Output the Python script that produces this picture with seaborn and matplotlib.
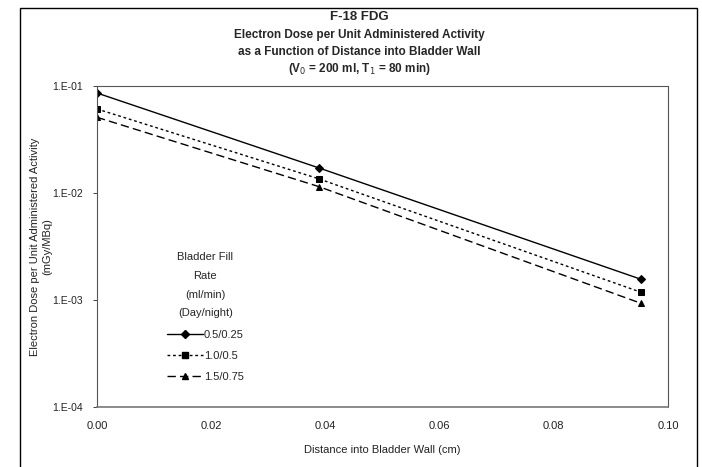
import numpy as np
import pandas as pd
import seaborn as sns
import matplotlib
matplotlib.use("Agg")
import matplotlib.pyplot as plt
from matplotlib.patches import Rectangle
from matplotlib.lines import Line2D

distance = [0.0, 0.0388, 0.0953]
dose_05 = [0.086, 0.0172, 0.00156]
dose_10 = [0.061, 0.0136, 0.00118]
dose_15 = [0.051, 0.0115, 0.00093]
series_labels = ["0.5/0.25", "1.0/0.5", "1.5/0.75"]
y_ticks = [1e-4, 1e-3, 1e-2, 1e-1]
y_tick_labels = ["1.E-04", "1.E-03", "1.E-02", "1.E-01"]
x_ticks = [0.00, 0.02, 0.04, 0.06, 0.08, 0.10]
x_tick_labels = ["0.00", "0.02", "0.04", "0.06", "0.08", "0.10"]

sns.set_theme(style="white")
plt.rcParams["font.family"] = ["Liberation Sans", "DejaVu Sans"]

fig = plt.figure(figsize=(7.02, 4.67), dpi=100)
ax = fig.add_axes([97/702, 1-407/467, (668-97)/702, (407-86)/467])

df = pd.DataFrame({
    "x": distance * 3,
    "y": dose_05 + dose_10 + dose_15,
    "s": [series_labels[0]] * 3 + [series_labels[1]] * 3 + [series_labels[2]] * 3,
})
styles = [("-", "D", 4), ((0, (2, 2)), "s", 5), ((0, (6, 3)), "^", 5)]
handles = []
for lab, (ls, mk, ms) in zip(series_labels, styles):
    sub = df[df["s"] == lab]
    sns.lineplot(data=sub, x="x", y="y", ax=ax, color="black", linestyle=ls,
                 marker=mk, markersize=ms, markeredgecolor="black", linewidth=1.0,
                 legend=False)
    handles.append(Line2D([0], [0], color="black", linestyle=ls, marker=mk,
                          markersize=ms, linewidth=1.0))

ax.set_yscale("log")
ax.set_ylim(1e-4, 1e-1)
ax.set_xlim(0, 0.10)
ax.set_yticks(y_ticks)
ax.set_yticklabels(y_tick_labels)
ax.minorticks_off()
ax.set_xticks(x_ticks)
ax.set_xticklabels(x_tick_labels)
ax.tick_params(axis="both", labelsize=8, colors="#222222")
ax.tick_params(axis="y", length=3, width=0.6, direction="out", left=True, pad=7,
               labelsize=7.5)
ax.tick_params(axis="x", length=0, pad=10)

for side in ["left", "top", "right"]:
    ax.spines[side].set_linestyle((0, (1, 1)))
    ax.spines[side].set_color("#555555")
    ax.spines[side].set_linewidth(0.8)
ax.spines["bottom"].set_color("#777777")
ax.spines["bottom"].set_linewidth(1.2)

ax.set_xlabel("Distance into Bladder Wall (cm)", fontsize=8, labelpad=10, color="#222222")
ax.set_ylabel("Electron Dose per Unit Administered Activity\n(mGy/MBq)",
              fontsize=8, color="#222222", linespacing=1.3)
ax.yaxis.set_label_coords((52-97)/571, 0.5)

leg = ax.legend(handles, series_labels, title="Bladder Fill\nRate\n(ml/min)\n(Day/night)",
                loc="upper left", bbox_to_anchor=(60/571, 1-156/321), frameon=False,
                fontsize=8, title_fontsize=8, handlelength=3.2, handletextpad=0.1,
                labelspacing=1.0)
leg.get_title().set_multialignment("center")
leg.get_title().set_linespacing(2.1)

fig.text(0.512, 1-17/467, "F-18 FDG", ha="center", va="center", fontsize=9.5, fontweight="bold")
fig.text(0.512, 1-35/467, "Electron Dose per Unit Administered Activity", ha="center",
         va="center", fontsize=8.5, fontweight="bold")
fig.text(0.512, 1-52/467, "as a Function of Distance into Bladder Wall", ha="center",
         va="center", fontsize=8.5, fontweight="bold")
fig.text(0.512, 1-69/467, "(V$_0$ = 200 ml, T$_1$ = 80 min)", ha="center",
         va="center", fontsize=8.5, fontweight="bold")

fig.patches.append(Rectangle((20/702, -0.01), (697-20)/702, 1-8/467 + 0.01,
                             transform=fig.transFigure, fill=False,
                             edgecolor="black", linewidth=1.0))

fig.savefig("out.png", dpi=100)
